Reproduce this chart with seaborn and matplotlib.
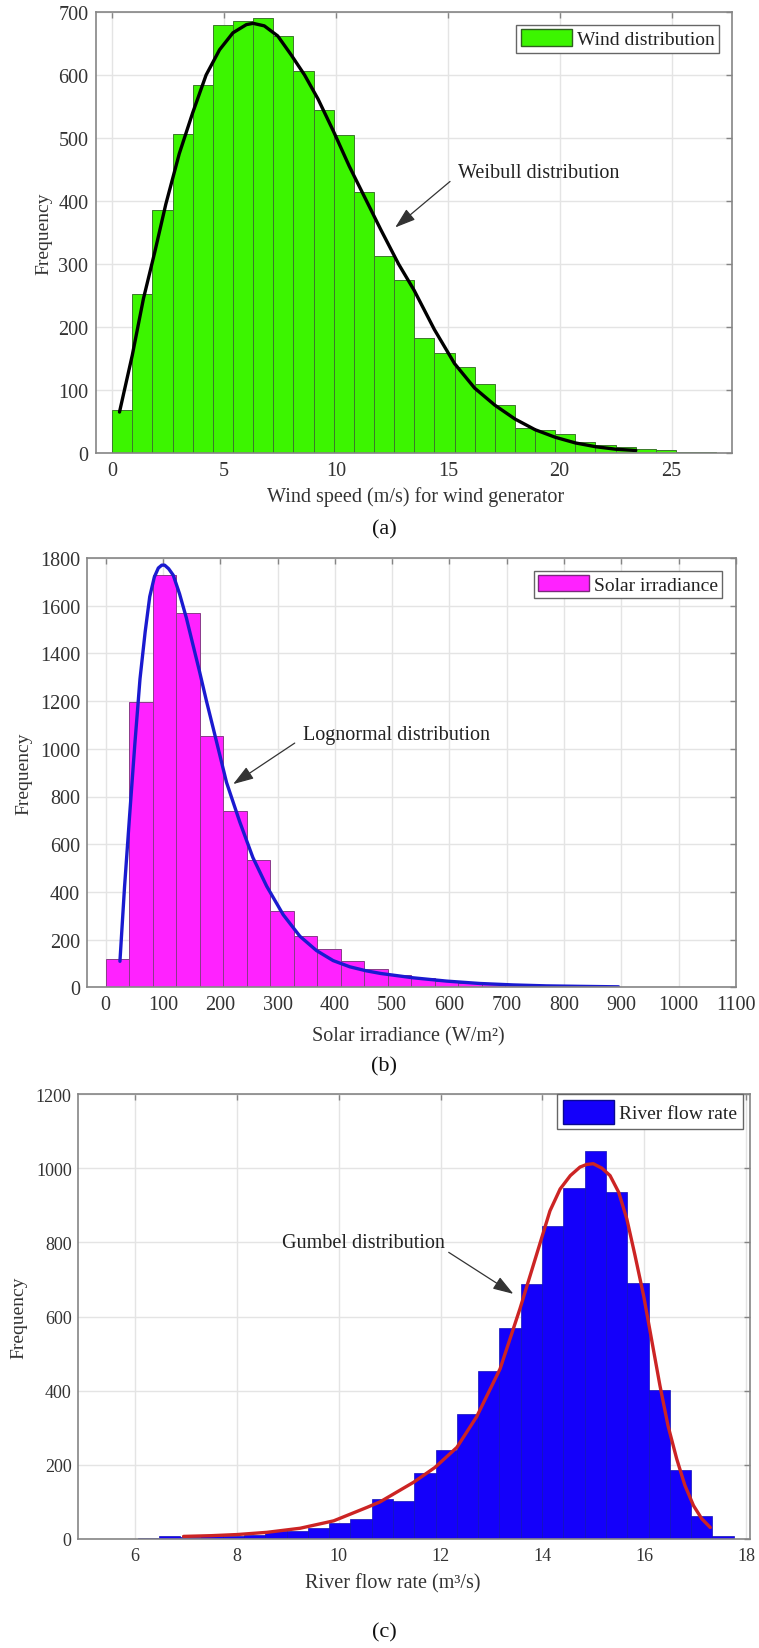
import numpy as np
import pandas as pd
import matplotlib
matplotlib.use("Agg")
import matplotlib.pyplot as plt
from matplotlib.patches import Patch
import seaborn as sns

sns.set_style("white")
plt.rcParams['font.family'] = ['Liberation Serif', 'DejaVu Serif']

# ---------------- data: (a) wind ----------------
wind_bin_start = 0.0
wind_bin_width = 0.9
wind_counts = [69, 253, 385, 506, 584, 679, 685, 691, 662, 607, 545, 504, 414,
               313, 274, 182, 159, 136, 110, 76, 39, 36, 30, 18, 13, 9, 6, 4, 2, 1]
weibull_x = [0.33, 0.9, 1.4, 1.9, 2.4, 3.0, 3.6, 4.2, 4.8, 5.4, 6.0, 6.3, 6.8, 7.4,
             8.0, 8.6, 9.2, 9.9, 10.6, 11.3, 12.0, 12.8, 13.5, 14.4, 15.3, 16.2,
             17.1, 18.0, 18.9, 19.8, 20.7, 21.6, 22.5, 23.4]
weibull_y = [65, 155, 245, 318, 395, 475, 540, 600, 640, 667, 680, 682, 678, 662,
             632, 600, 562, 510, 455, 405, 355, 300, 258, 196, 142, 103,
             76, 54, 37, 25, 16, 10, 6, 4]

# ---------------- data: (b) solar ----------------
solar_bin_start = 0.0
solar_bin_width = 41.0
solar_counts = [120, 1196, 1728, 1571, 1054, 739, 535, 319, 214, 160, 112, 76,
                52, 38, 27, 19, 14, 10, 7, 5, 4, 3, 2, 1]
lognorm_x = [25, 33, 42, 51, 60, 69, 77, 85, 92, 98, 103, 110, 118, 129, 141, 152,
             164, 176, 188, 211, 234, 257, 281, 310, 339, 368, 397, 426, 455, 480,
             536, 595, 653, 711, 769, 827, 895]
lognorm_y = [109, 420, 724, 1020, 1293, 1490, 1638, 1720, 1758, 1770, 1770, 1755,
             1728, 1650, 1548, 1440, 1323, 1200, 1084, 859, 694, 544, 424, 304,
             214, 154, 112, 86, 69, 58, 40, 26, 16, 10, 6, 4, 2]

# ---------------- data: (c) river ----------------
river_bin_start = 5.21
river_bin_width = 0.4183
river_counts = [1, 1, 3, 7, 6, 7, 9, 12, 22, 22, 30, 42, 54, 108, 103,
                177, 240, 337, 453, 568, 688, 845, 947, 1046, 937, 691, 402, 187, 61, 7]
gumbel_x = [6.95, 7.5, 8.0, 8.59, 9.24, 9.9, 10.55, 10.81, 11.47, 11.89, 12.32,
            12.71, 13.17, 13.56, 13.96, 14.15, 14.35, 14.55, 14.74, 14.87, 15.0,
            15.17, 15.33, 15.5, 15.66, 15.82, 15.99, 16.15, 16.31, 16.47, 16.64,
            16.8, 16.97, 17.13, 17.3]
gumbel_y = [7, 9, 12, 18, 29, 49, 85, 100, 153, 193, 247, 330, 459, 621, 800,
            885, 944, 980, 1003, 1010, 1012, 1000, 980, 935, 863, 765, 656, 535,
            414, 305, 216, 145, 90, 55, 31]

# ---------------- styling ----------------
W, H = 759, 1649
fig = plt.figure(figsize=(W / 100, H / 100), dpi=100)

spine_c = '#858585'
text_c = '#333333'
grid_c = '#e4e4e4'


def box(l, t, r, b):
    return [l / W, 1 - b / H, (r - l) / W, (b - t) / H]


def style_axes(ax, xticks, yticks, xlim, ylim, tick_fs, xpad, ypad):
    ax.set_xlim(*xlim)
    ax.set_ylim(*ylim)
    ax.set_xticks(xticks)
    ax.set_yticks(yticks)
    ax.grid(True, color=grid_c, lw=1.0)
    ax.set_axisbelow(True)
    for s in ax.spines.values():
        s.set_color(spine_c)
        s.set_linewidth(1.2)
        s.set_visible(True)
    ax.tick_params(axis='both', direction='in', top=True, right=True,
                   length=4.5, width=1.0, color=spine_c, labelcolor=text_c,
                   labelsize=tick_fs)
    ax.tick_params(axis='x', pad=xpad)
    ax.tick_params(axis='y', pad=ypad)


def hist(ax, start, width, counts, face, edge, lw):
    counts = np.asarray(counts, dtype=float)
    edges = start + width * np.arange(len(counts) + 1)
    centers = edges[:-1] + width / 2
    df = pd.DataFrame({'value': centers, 'count': counts})
    sns.histplot(data=df, x='value', weights='count', bins=edges.tolist(), ax=ax,
                 color=face, edgecolor=edge, linewidth=lw, alpha=1.0,
                 stat='count')


def labels(ax, xlabel, xc, yc, ylc):
    ax.set_xlabel(xlabel, fontsize=14.5, color=text_c)
    ax.set_ylabel('Frequency', fontsize=14, color=text_c)
    ax.xaxis.label.set_va('center')
    ax.xaxis.set_label_coords(xc, yc)
    ax.yaxis.set_label_coords(ylc, 0.5)


def legend(ax, label, face, edge, anchor, hh, bpad):
    h = Patch(facecolor=face, edgecolor=edge, linewidth=1.0)
    lg = ax.legend(handles=[h], labels=[label], loc='upper right',
                   bbox_to_anchor=anchor, borderaxespad=0, fontsize=14,
                   frameon=True, fancybox=False, framealpha=1,
                   edgecolor='#666666', handlelength=2.65, handleheight=hh,
                   handletextpad=0.25, borderpad=bpad)
    lg.get_frame().set_linewidth(1.0)
    for t in lg.get_texts():
        t.set_color('#222222')


arrow_kw = dict(arrowstyle='-|>,head_length=0.9,head_width=0.3', color='#333333',
                lw=0.9, mutation_scale=14, shrinkA=0, shrinkB=0)

# ---------------- (a) ----------------
ax1 = fig.add_axes(box(96, 13, 732, 454))
hist(ax1, wind_bin_start, wind_bin_width, wind_counts, '#3CF500', '#3b7a2a', 0.7)
sns.lineplot(x=weibull_x, y=weibull_y, ax=ax1, color='black', lw=2.4,
             sort=False, estimator=None)
style_axes(ax1, [0, 5, 10, 15, 20, 25], list(range(0, 701, 100)),
           (-0.72, 27.7), (0, 700), 14.5, 6.0, 5.5)
labels(ax1, 'Wind speed (m/s) for wind generator', 0.502, -43 / 441, -0.068)
legend(ax1, 'Wind distribution', '#3CF500', '#2f5f20',
       (1 - 13 / 636, 1 - 13 / 441), 0.95, 0.22)
ax1.text(15.47, 446, 'Weibull distribution', fontsize=14.5, color='#222222',
         ha='left', va='center')
ax1.annotate('', xy=(12.65, 358), xytext=(15.1, 431), arrowprops=arrow_kw)

# ---------------- (b) ----------------
ax2 = fig.add_axes(box(86.7, 559, 736, 988.3))
hist(ax2, solar_bin_start, solar_bin_width, solar_counts, '#FF22FF', '#8a3a8a', 0.7)
sns.lineplot(x=lognorm_x, y=lognorm_y, ax=ax2, color='#1a1ad0', lw=2.4,
             sort=False, estimator=None)
style_axes(ax2, list(range(0, 1101, 100)), list(range(0, 1801, 200)),
           (-33, 1100), (0, 1800), 14.5, 5.5, 4.8)
labels(ax2, 'Solar irradiance (W/m²)', 0.496, -49 / 429.3, -0.083)
legend(ax2, 'Solar irradiance', '#FF22FF', '#7a2a7a',
       (1 - 14 / 649.3, 1 - 13 / 429.3), 0.9, 0.2)
ax2.text(345, 1061, 'Lognormal distribution', fontsize=14.5, color='#222222',
         ha='left', va='center')
ax2.annotate('', xy=(222.6, 852), xytext=(330, 1024), arrowprops=arrow_kw)

# ---------------- (c) ----------------
ax3 = fig.add_axes(box(77.7, 1095, 750, 1540))
hist(ax3, river_bin_start, river_bin_width, river_counts, '#1400FA', '#1010b8', 0.5)
sns.lineplot(x=gumbel_x, y=gumbel_y, ax=ax3, color='#cc2424', lw=2.4,
             sort=False, estimator=None)
style_axes(ax3, [6, 8, 10, 12, 14, 16, 18], list(range(0, 1201, 200)),
           (4.87, 18.08), (0, 1200), 13, 5.5, 4.3)
labels(ax3, 'River flow rate (m³/s)', 0.468, -44 / 445, -0.0754)
legend(ax3, 'River flow rate', '#1400FA', '#0a0a90',
       (1 - 7 / 672.3, 1.0), 1.5, 0.3)
ax3.text(8.88, 800, 'Gumbel distribution', fontsize=14.5, color='#222222',
         ha='left', va='center')
ax3.annotate('', xy=(13.43, 661), xytext=(12.16, 773), arrowprops=arrow_kw)

# ---------------- captions ----------------
for lab, yc in [('(a)', 530), ('(b)', 1067), ('(c)', 1633)]:
    fig.text(384 / W, 1 - yc / H, lab, fontsize=16, color='#111111',
             ha='center', va='center')

fig.savefig('out.png', dpi=100)
